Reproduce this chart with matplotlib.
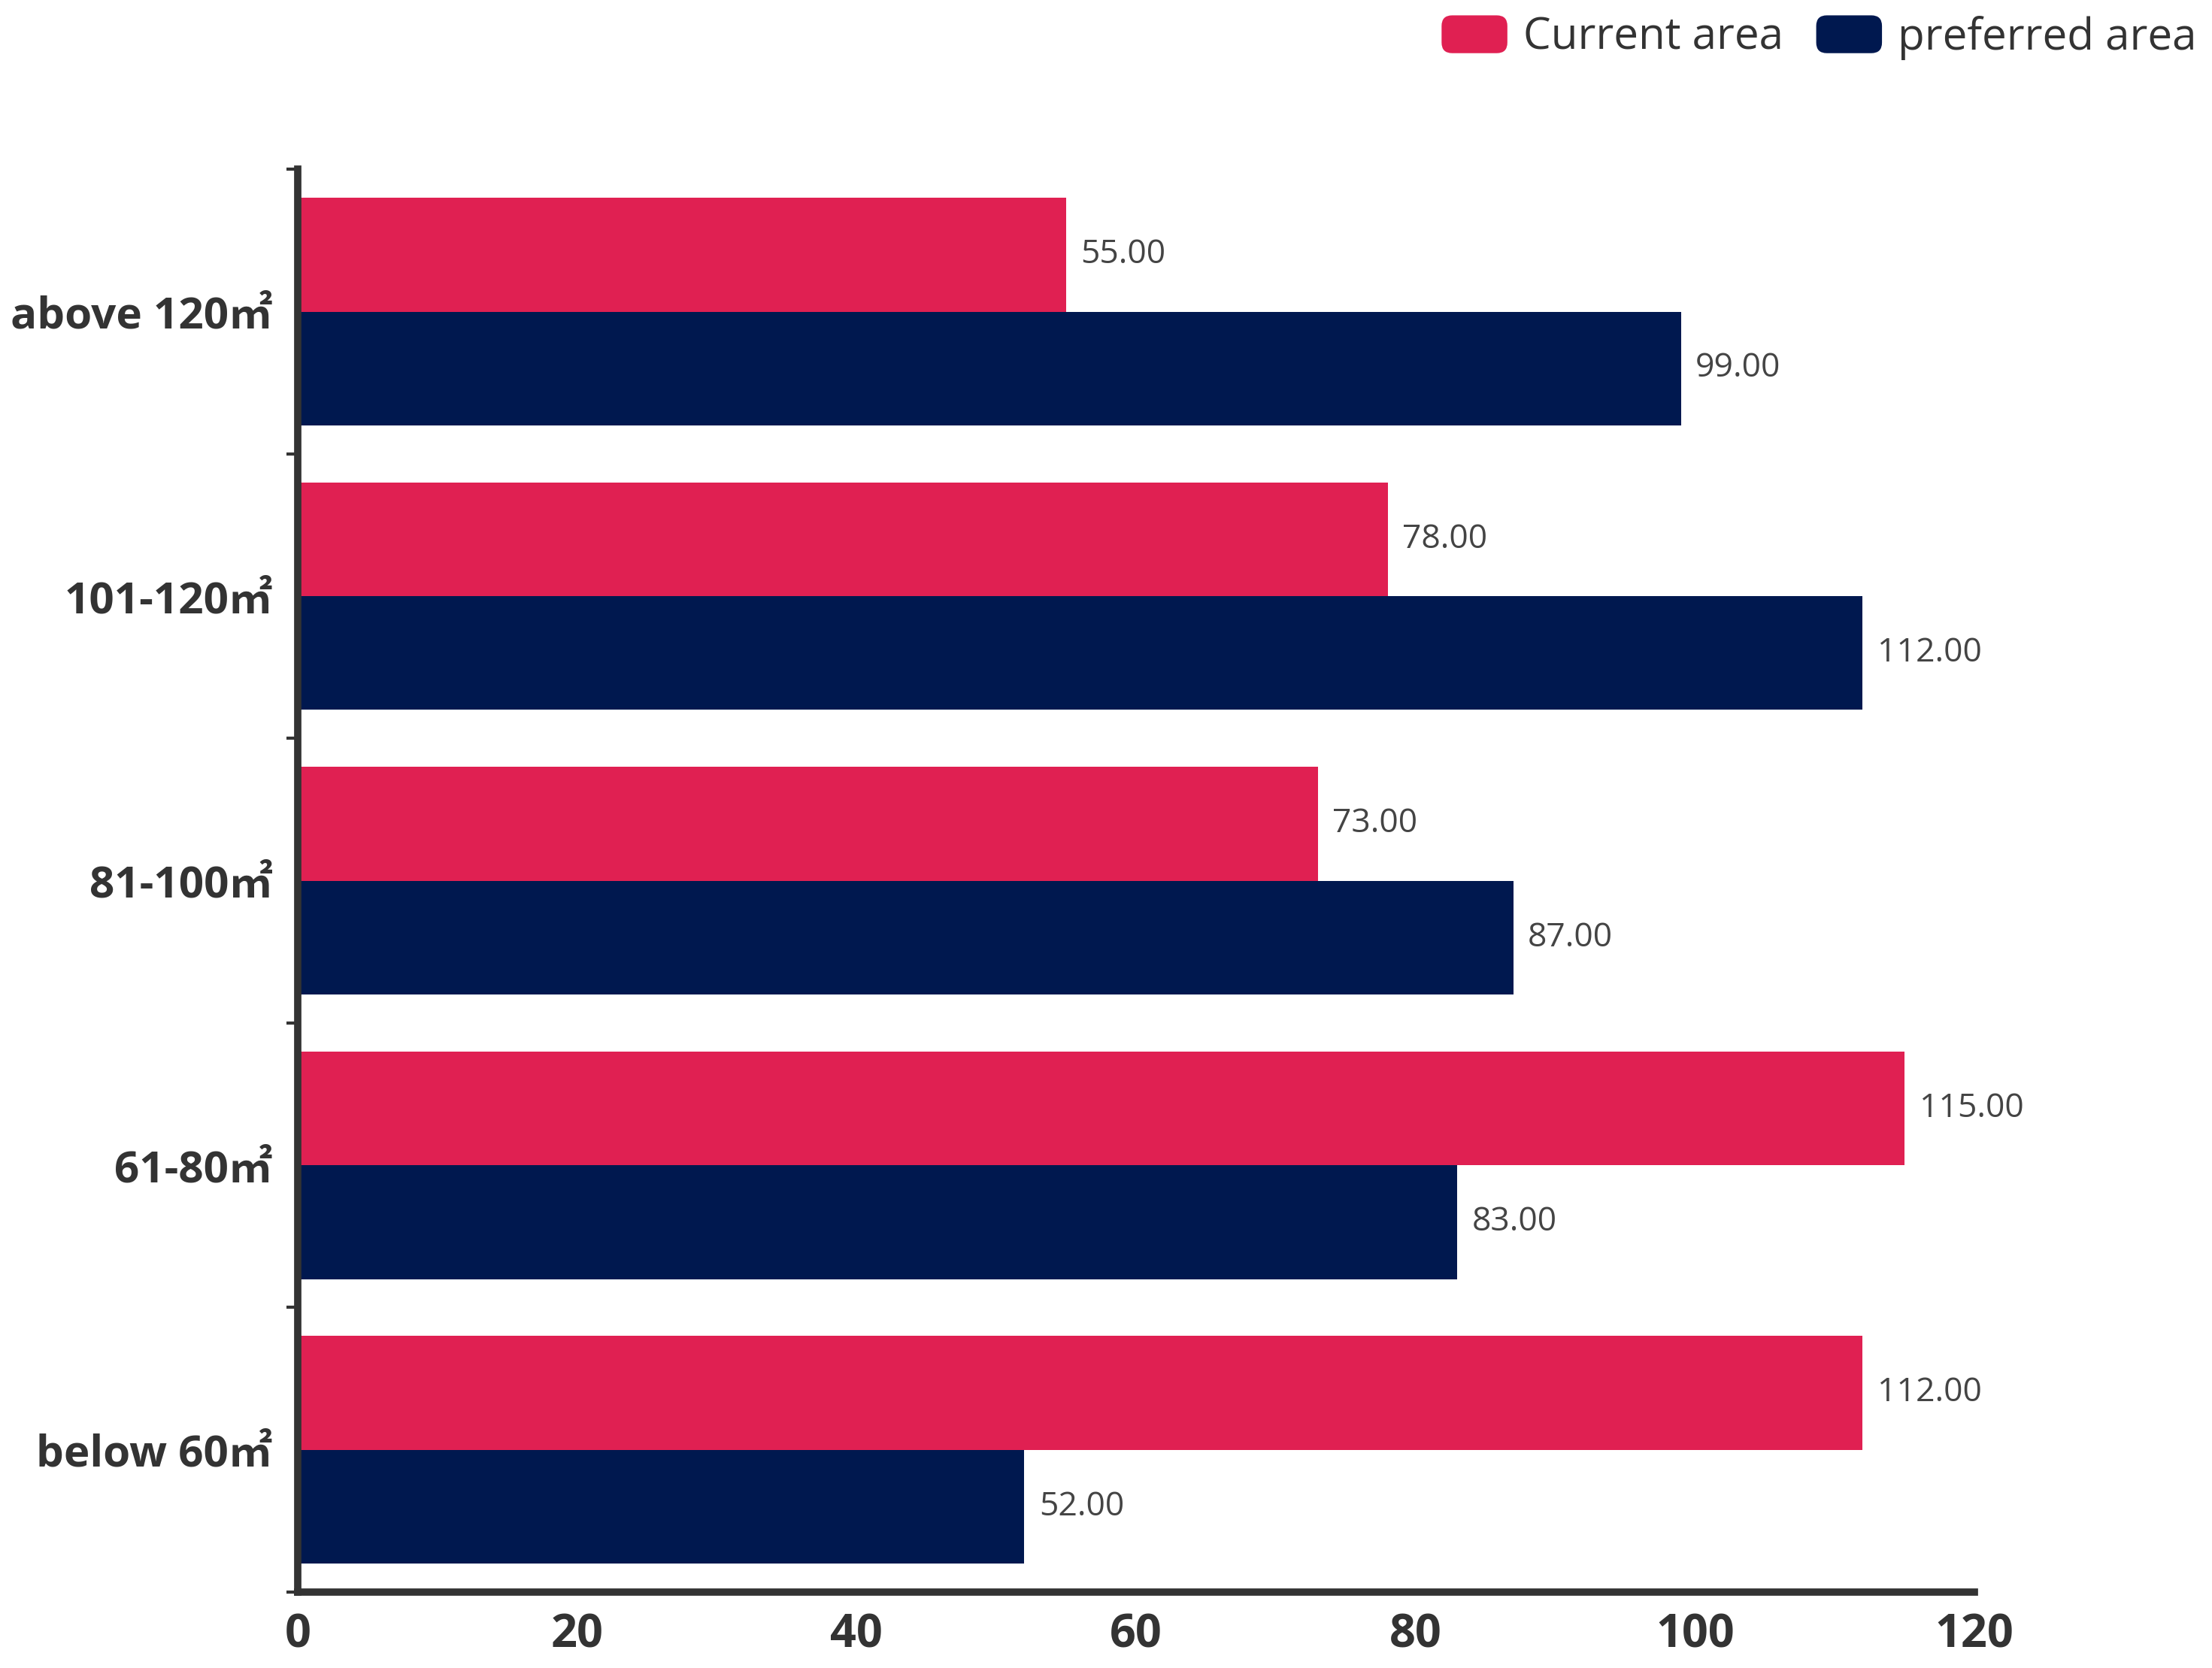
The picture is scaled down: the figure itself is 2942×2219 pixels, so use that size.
import numpy as np
import matplotlib.pyplot as plt
from matplotlib.patches import FancyBboxPatch, Patch
from matplotlib.legend_handler import HandlerPatch
from matplotlib.ticker import FixedLocator

categories = ["below 60㎡", "61-80㎡", "81-100㎡", "101-120㎡", "above 120㎡"]
current_area = [112, 115, 73, 78, 55]
preferred_area = [52, 83, 87, 112, 99]
x_ticks = [0, 20, 40, 60, 80, 100, 120]

RED = "#E02052"
NAVY = "#00184F"
TEXT = "#333333"

plt.rcParams["font.family"] = ["Open Sans", "Noto Sans CJK SC", "DejaVu Sans"]


class RoundHandler(HandlerPatch):
    # legend keys are drawn as rounded boxes
    def create_artists(self, legend, orig_handle, xdescent, ydescent,
                       width, height, fontsize, trans):
        p = FancyBboxPatch((-xdescent, -ydescent), width, height,
                           boxstyle=f"round,pad=0,rounding_size={height * 0.28}",
                           fc=orig_handle.get_facecolor(), ec="none",
                           transform=trans)
        return [p]


fig = plt.figure(figsize=(14.71, 11.095), dpi=200)
ax = fig.add_axes([0.1346, 0.0455, 0.758, 0.853])

y = np.arange(len(categories))
h = 0.4
ax.barh(y + h / 2, current_area, height=h, color=RED, label="Current area")
ax.barh(y - h / 2, preferred_area, height=h, color=NAVY, label="preferred area")

for yi, v in zip(y + h / 2, current_area):
    ax.annotate(f"{v:.2f}", (v, yi), xytext=(7, 0), textcoords="offset points",
                va="center", ha="left", fontsize=16, color="#444444")
for yi, v in zip(y - h / 2, preferred_area):
    ax.annotate(f"{v:.2f}", (v, yi), xytext=(7, 0), textcoords="offset points",
                va="center", ha="left", fontsize=16, color="#444444")

ax.set_xlim(0, 120)
ax.set_ylim(-0.5, len(categories) - 0.5)
ax.set_xticks(x_ticks)
ax.set_xticklabels([str(t) for t in x_ticks], fontsize=22, fontweight="bold", color=TEXT)
ax.set_yticks(y)
ax.set_yticklabels(categories, fontsize=21, fontweight="bold", color=TEXT)
ax.yaxis.set_minor_locator(FixedLocator(np.arange(-0.5, len(categories), 1.0)))
ax.tick_params(axis="y", which="major", length=0, pad=12)
ax.tick_params(axis="y", which="minor", length=5.5, width=1.5, color=TEXT)
ax.tick_params(axis="x", length=0, pad=10)

for s in ["top", "right"]:
    ax.spines[s].set_visible(False)
for s in ["left", "bottom"]:
    ax.spines[s].set_color(TEXT)
    ax.spines[s].set_linewidth(3.5)

handles = [Patch(facecolor=RED), Patch(facecolor=NAVY)]
fig.legend(handles, ["Current area", "preferred area"],
           handler_map={Patch: RoundHandler()},
           loc="upper right", bbox_to_anchor=(1.0, 1.0), ncol=2,
           frameon=False, fontsize=21, labelcolor=TEXT,
           handlelength=1.5, handleheight=0.95, handletextpad=0.36,
           columnspacing=0.75, borderpad=0.3, borderaxespad=0.05)

fig.savefig("out.png", dpi=200)
